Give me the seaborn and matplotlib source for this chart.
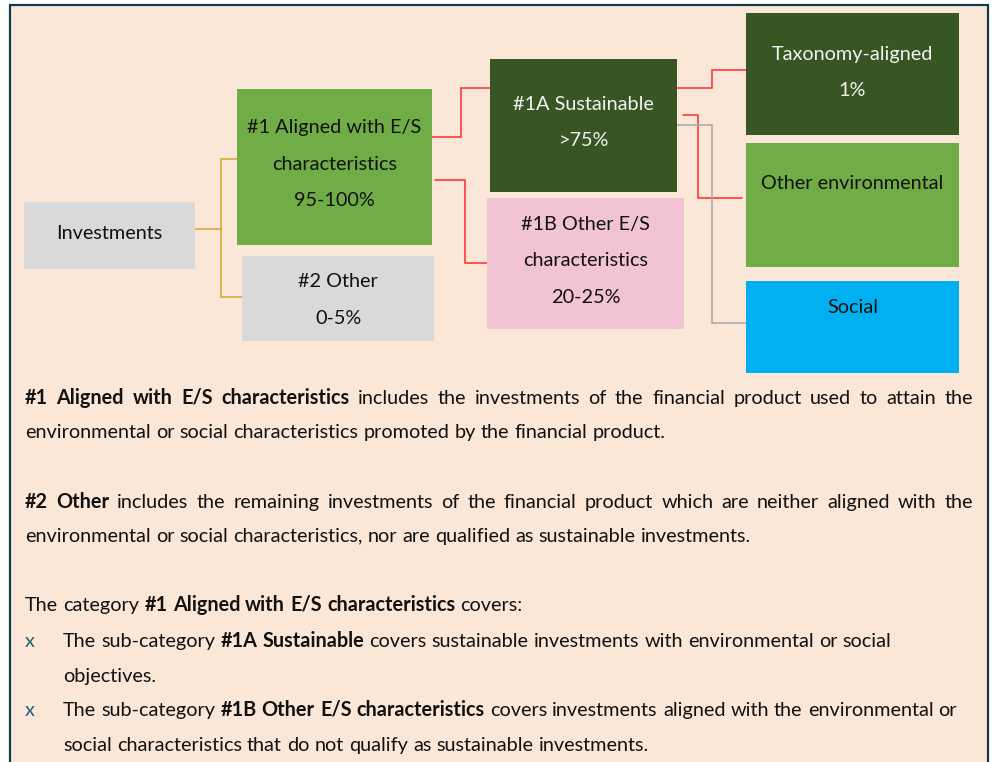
import math

import matplotlib

matplotlib.use("Agg")
import matplotlib.pyplot as plt
from matplotlib.font_manager import FontProperties
from matplotlib.patches import Rectangle
import seaborn as sns

# -------------------------------
# Data: categories and allocation shares
# -------------------------------
categories = [
    "Investments",
    "#1 Aligned with E/S characteristics",
    "#2 Other",
    "#1A Sustainable",
    "#1B Other E/S characteristics",
    "Taxonomy-aligned",
    "Other environmental",
    "Social",
]
shares = ["", "95-100%", "0-5%", ">75%", "20-25%", "1%", "", ""]

# how each category label is broken inside its box
label_lines = [
    ["Investments"],
    ["#1 Aligned with E/S", "characteristics"],
    ["#2 Other"],
    ["#1A Sustainable"],
    ["#1B Other E/S", "characteristics"],
    ["Taxonomy-aligned"],
    ["Other environmental"],
    ["Social"],
]

# -------------------------------
# Layout (pixel coordinates, y grows downwards)
# -------------------------------
BOX_LEFT = [24, 237, 242, 490, 487, 746, 746, 746]
BOX_TOP = [202, 89, 256, 59, 198, 13, 143, 281]
BOX_RIGHT = [195, 432, 434, 677, 684, 959, 959, 959]
BOX_BOTTOM = [269, 245, 341, 192, 329, 135, 267, 373]
BOX_FIRST_BASELINE = [239, 133, 287, 110, 230, 60, 189, 313]
BOX_FACE = ["#D9D9D9", "#70AD47", "#D9D9D9", "#375623", "#F2C3D2",
            "#375623", "#70AD47", "#00B0F0"]
BOX_TEXT = ["#111111", "#111111", "#111111", "#F2F2F2", "#111111",
            "#F2F2F2", "#111111", "#111111"]
LINE_STEP = 36.5

ORANGE = "#D6A52E"
RED = "#FF2B2B"
GREY = "#A6A6A6"
CONNECTORS = [
    ([195, 221, 221, 237], [229, 229, 159, 159], ORANGE),
    ([221, 221, 242], [229, 297, 297], ORANGE),
    ([432, 461, 461, 490], [137, 137, 88, 88], RED),
    ([435, 465, 465, 487], [180, 180, 263, 263], RED),
    ([677, 712, 712, 746], [88, 88, 70, 70], RED),
    ([683, 698, 698, 742], [115, 115, 198, 198], RED),
    ([677, 712, 712, 746], [125, 125, 323, 323], GREY),
]

BACKGROUND = "#FAE7D7"
FRAME = "#143B4B"
BULLET = "#1F5E78"
FONT = "Lato"

# explanatory notes: (segments, x_start, baseline, justified)
notes = [
    ([("#1 Aligned with E/S characteristics", True),
      (" includes the investments of the financial product used to attain the", False)],
     25, 404, True),
    ([("environmental or social characteristics promoted by the financial product.", False)],
     25, 438, False),
    ([("#2 Other", True),
      (" includes the remaining investments of the financial product which are neither aligned with the", False)],
     25, 508, True),
    ([("environmental or social characteristics, nor are qualified as sustainable investments.", False)],
     25, 542, False),
    ([("The category ", False), ("#1 Aligned with E/S characteristics", True), (" covers:", False)],
     25, 611, False),
    ([("The sub-category ", False), ("#1A Sustainable", True),
      (" covers sustainable investments with environmental or social", False)],
     63, 647, False),
    ([("objectives.", False)], 63, 682, False),
    ([("The sub-category ", False), ("#1B Other E/S characteristics", True),
      (" covers investments aligned with the environmental or", False)],
     63, 716, False),
    ([("social characteristics that do not qualify as sustainable investments.", False)],
     63, 751, False),
]
bullet_rows = [647, 716]
JUSTIFY_RIGHT = 973


def text_width(ax, renderer, s, size, bold):
    t = ax.text(0, 0, s, fontsize=size, family=FONT,
                fontweight="bold" if bold else "normal")
    w = t.get_window_extent(renderer).width
    t.remove()
    return w


def snapped_y(renderer, s, y, size, bold):
    # Agg rounds the glyph bitmap by the word's own descent; cancel that so
    # every word sits on the same pixel baseline
    prop = FontProperties(family=FONT, size=size, weight="bold" if bold else "normal")
    _, _, d = renderer.get_text_width_height_descent(s, prop, ismath=False)
    return y - d + math.floor(d)


def draw_note(ax, renderer, segments, x0, y, justified, size):
    words = []
    for text, bold in segments:
        for w in text.split():
            words.append((w, bold))
    widths = [text_width(ax, renderer, w, size, b) for w, b in words]
    space = text_width(ax, renderer, "n n", size, False) - text_width(ax, renderer, "nn", size, False)
    if justified and len(words) > 1:
        space = (JUSTIFY_RIGHT - x0 - sum(widths)) / (len(words) - 1)
    x = x0
    for (w, b), wd in zip(words, widths):
        ax.text(x, snapped_y(renderer, w, y, size, b), w, fontsize=size, family=FONT,
                color="#111111", fontweight="bold" if b else "normal",
                ha="left", va="baseline")
        x += wd + space


def main():
    sns.set_style("white")
    fig = plt.figure(figsize=(9.93, 7.62), dpi=100)
    fig.patch.set_facecolor("white")
    ax = fig.add_axes([0, 0, 1, 1])
    ax.set_xlim(0, 993)
    ax.set_ylim(762, 0)
    ax.axis("off")

    ax.add_patch(Rectangle((10, 5), 978, 800, facecolor=BACKGROUND,
                           edgecolor=FRAME, linewidth=1.6, zorder=0))

    fig.canvas.draw()
    renderer = fig.canvas.get_renderer()

    # font size fitted so a reference line has the width seen in the picture
    ref = "environmental or social characteristics promoted by the financial product."
    size = 10 * 641 / text_width(ax, renderer, ref, 10, False)

    for xs, ys, col in CONNECTORS:
        ax.plot(xs, ys, color=col, linewidth=1.1, solid_joinstyle="miter", zorder=1)

    for i, name in enumerate(categories):
        ax.add_patch(Rectangle((BOX_LEFT[i], BOX_TOP[i]), BOX_RIGHT[i] - BOX_LEFT[i],
                               BOX_BOTTOM[i] - BOX_TOP[i], facecolor=BOX_FACE[i],
                               edgecolor="none", zorder=2))
        lines = list(label_lines[i])
        if shares[i]:
            lines.append(shares[i])
        cx = (BOX_LEFT[i] + BOX_RIGHT[i]) / 2
        for k, line in enumerate(lines):
            yb = round(BOX_FIRST_BASELINE[i] + k * LINE_STEP)
            ax.text(cx, snapped_y(renderer, line, yb, size, False), line, fontsize=size,
                    family=FONT, color=BOX_TEXT[i], ha="center", va="baseline", zorder=3)

    for segments, x0, y, just in notes:
        draw_note(ax, renderer, segments, x0, y, just, size)
    for y in bullet_rows:
        ax.text(25, snapped_y(renderer, "x", y, size, False), "x", fontsize=size,
                family=FONT, color=BULLET, ha="left", va="baseline")

    fig.savefig("out.png", dpi=100)


if __name__ == "__main__":
    main()
